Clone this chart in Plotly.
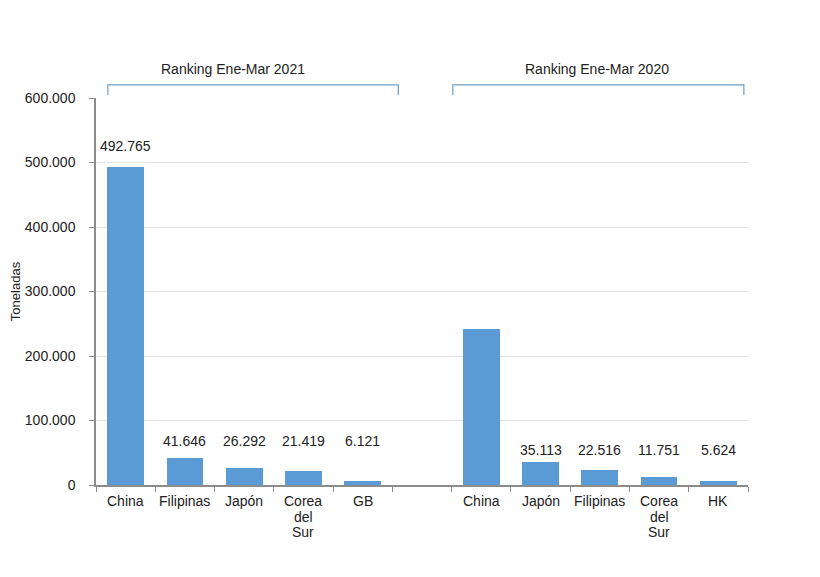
import plotly.graph_objects as go

# data (toneladas)
countries_2021 = ["China", "Filipinas", "Japón", "Corea<br>del<br>Sur", "GB"]
values_2021 = [492765, 41646, 26292, 21419, 6121]
labels_2021 = ["492.765", "41.646", "26.292", "21.419", "6.121"]

countries_2020 = ["China", "Japón", "Filipinas", "Corea<br>del<br>Sur", "HK"]
values_2020 = [242000, 35113, 22516, 11751, 5624]
labels_2020 = ["", "35.113", "22.516", "11.751", "5.624"]

group_titles = ["Ranking Ene-Mar 2021", "Ranking Ene-Mar 2020"]
y_ticks = [0, 100000, 200000, 300000, 400000, 500000, 600000]

BAR = "#5b9bd5"
GREY = "#8c8c8c"
FONT = "Liberation Sans, Arial, sans-serif"

# one slot gap between the two rankings
x_2021 = list(range(len(countries_2021)))
x_2020 = [len(countries_2021) + 1 + i for i in range(len(countries_2020))]

fig = go.Figure()
fig.add_trace(go.Bar(x=x_2021 + x_2020, y=values_2021 + values_2020,
                     marker=dict(color=BAR, line=dict(width=0)),
                     width=0.62, hoverinfo="skip"))

# value labels: small bars share one line per group, big bar sits above its top
for xs, vals, labs, floor in ((x_2021, values_2021, labels_2021, 68000),
                              (x_2020, values_2020, labels_2020, 54000)):
    for x, v, t in zip(xs, vals, labs):
        if not t:
            continue
        y = v + 33000 if v > 200000 else floor
        fig.add_annotation(x=x, y=y, text=t, showarrow=False,
                           font=dict(size=14, color="#222"))

# category labels, drawn line by line to get a tighter line spacing
for x, name in zip(x_2021 + x_2020, countries_2021 + countries_2020):
    for i, line in enumerate(name.split("<br>")):
        fig.add_annotation(x=x, y=0, text=line, showarrow=False,
                           yanchor="middle", yshift=-16 - 15.5 * i,
                           font=dict(size=14, color="#222"))

# brackets and group titles above the plot
for xs, title, lo, hi, tx in ((x_2021, group_titles[0], -0.3, 0.6, -0.19),
                              (x_2020, group_titles[1], -0.48, 0.43, -0.05)):
    x0, x1 = xs[0] + lo, xs[-1] + hi
    fig.add_shape(type="path", xref="x", yref="paper",
                  path=f"M {x0} 1.008 L {x0} 1.034 L {x1} 1.034 L {x1} 1.008",
                  line=dict(color="#6b9ec8", width=1.2))
    fig.add_annotation(x=xs[2] + tx, y=1.1, xref="x", yref="paper",
                       text=title, showarrow=False,
                       font=dict(size=14, color="#222"))

# page body adds 8px, margins compensate for it
fig.update_layout(
    width=820, height=577,
    margin=dict(l=88, r=80, t=90, b=100),
    paper_bgcolor="white", plot_bgcolor="white",
    font=dict(family=FONT, size=14, color="#222"),
    separators=",.",
    showlegend=False,
    bargap=0,
)
fig.update_xaxes(
    range=[-0.5, len(x_2021) + len(x_2020) + 0.5],
    tickvals=x_2021 + x_2020, showticklabels=False,
    ticks="", showgrid=False, zeroline=False,
    showline=True, linecolor=GREY, linewidth=1.5,
    minor=dict(tick0=-0.5, dtick=1, ticks="outside", ticklen=5,
               tickcolor=GREY, showgrid=False),
    automargin=False, fixedrange=True,
)
fig.update_yaxes(
    range=[0, 600000], tickvals=y_ticks, tickformat=",d",
    showgrid=True, gridcolor="#e3e3e3", gridwidth=1, zeroline=False,
    showline=True, linecolor=GREY, linewidth=1.5,
    ticks="outside", ticklen=5, tickcolor=GREY,
    tickfont=dict(size=14), ticklabelstandoff=11,
    title=dict(text="Toneladas", font=dict(size=13), standoff=20),
    automargin=False, fixedrange=True,
)

fig.write_html("out.html")
